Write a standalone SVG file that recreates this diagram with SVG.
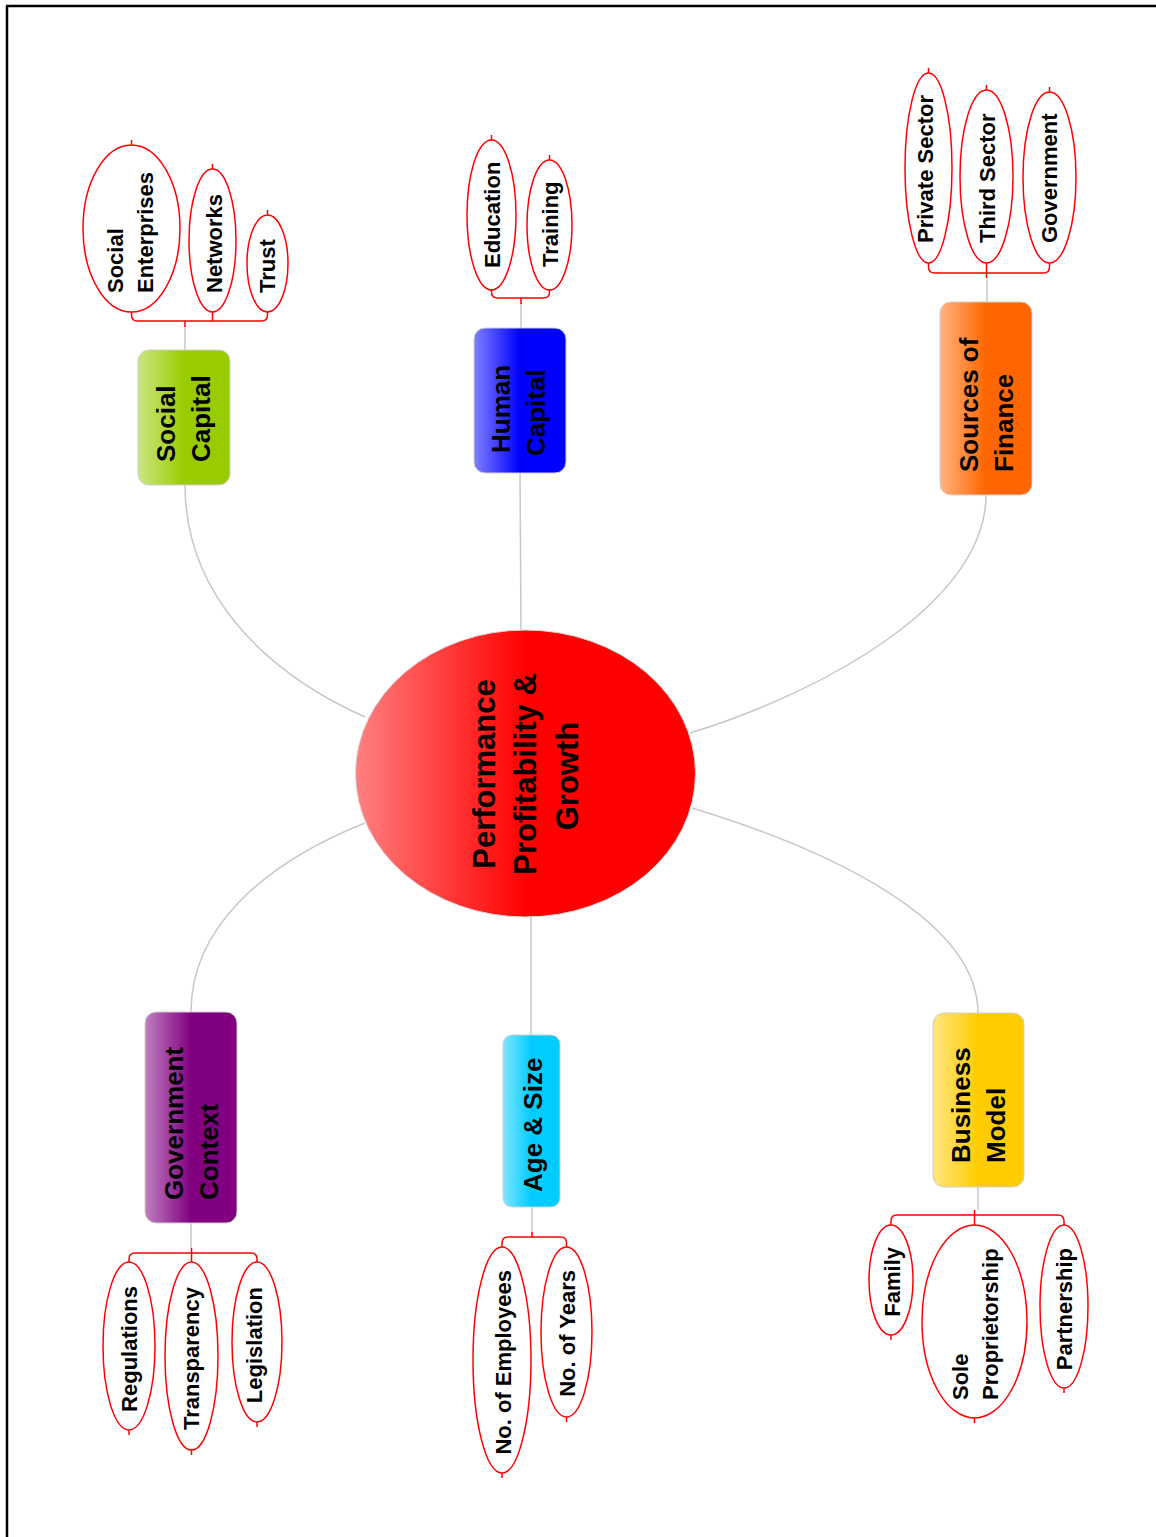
<svg xmlns="http://www.w3.org/2000/svg" width="1156" height="1537" viewBox="0 0 1156 1537">
<defs>
<linearGradient id="gCenter" x1="0" y1="0" x2="1" y2="0"><stop offset="0" stop-color="#ff8080"/><stop offset="0.5" stop-color="#ff0000"/><stop offset="1" stop-color="#ff0000"/></linearGradient>
<linearGradient id="gGreen" x1="0" y1="0" x2="1" y2="0"><stop offset="0" stop-color="#cce680"/><stop offset="0.5" stop-color="#99cc00"/><stop offset="1" stop-color="#99cc00"/></linearGradient>
<linearGradient id="gBlue" x1="0" y1="0" x2="1" y2="0"><stop offset="0" stop-color="#8080ff"/><stop offset="0.5" stop-color="#0000ff"/><stop offset="1" stop-color="#0000ff"/></linearGradient>
<linearGradient id="gOrange" x1="0" y1="0" x2="1" y2="0"><stop offset="0" stop-color="#ffb380"/><stop offset="0.5" stop-color="#ff6600"/><stop offset="1" stop-color="#ff6600"/></linearGradient>
<linearGradient id="gPurple" x1="0" y1="0" x2="1" y2="0"><stop offset="0" stop-color="#c080c0"/><stop offset="0.5" stop-color="#800080"/><stop offset="1" stop-color="#800080"/></linearGradient>
<linearGradient id="gCyan" x1="0" y1="0" x2="1" y2="0"><stop offset="0" stop-color="#80e6ff"/><stop offset="0.5" stop-color="#00ccff"/><stop offset="1" stop-color="#00ccff"/></linearGradient>
<linearGradient id="gYellow" x1="0" y1="0" x2="1" y2="0"><stop offset="0" stop-color="#ffe680"/><stop offset="0.5" stop-color="#ffcc00"/><stop offset="1" stop-color="#ffcc00"/></linearGradient>
</defs>
<style>
.conn{fill:none;stroke:#c8c8c8;stroke-width:1.5}
.br{fill:none;stroke:#ff0000;stroke-width:1.5}
.leaf{fill:#ffffff;stroke:#ff0000;stroke-width:1.5}
.box{stroke:#d0d0d0;stroke-width:1}
.t{font-family:"Liberation Sans",Arial,sans-serif;font-weight:bold;fill:#000}
.tc{font-size:31px;text-anchor:middle}
.tb{font-size:26px}
.tl{font-size:22px}
.e{text-anchor:end}
</style>
<rect width="1156" height="1537" fill="#ffffff"/>
<path d="M6,6 H1156 M7,6 V1537" stroke="#000" stroke-width="2.5" fill="none"/>

<g id="connectors">
<path class="conn" d="M185,485 C185,590 260,670 365,717"/>
<path class="conn" d="M185,326 V350"/>
<path class="conn" d="M520,473 L521,630"/>
<path class="conn" d="M521,303 V328"/>
<path class="conn" d="M986,495 C986,600 830,690 690,733"/>
<path class="conn" d="M987,278 V302"/>
<path class="conn" d="M365,823 C260,865 191,930 191,1012"/>
<path class="conn" d="M191,1223 V1248"/>
<path class="conn" d="M531,917 V1035"/>
<path class="conn" d="M532,1207 V1232"/>
<path class="conn" d="M692,808 C830,850 978,920 978,1013"/>
<path class="conn" d="M978,1187 V1210"/>
</g>

<g id="center">
<ellipse cx="525.5" cy="773.5" rx="170" ry="143.5" fill="url(#gCenter)" stroke="#d8d8d8" stroke-width="1"/>
<text class="t tc" transform="translate(495,774) rotate(-90)">Performance</text>
<text class="t tc" transform="translate(536,774) rotate(-90)">Profitability &amp;</text>
<text class="t tc" transform="translate(578,776) rotate(-90)">Growth</text>
</g>

<g id="social-capital">
<rect class="box" x="138" y="350" width="92" height="135" rx="11" fill="url(#gGreen)"/>
<text class="t tb" transform="translate(175,462) rotate(-90)">Social</text>
<text class="t tb" transform="translate(210,462) rotate(-90)">Capital</text>
</g>
<g id="social-leaves">
<path class="br" d="M131.5,312 V315 Q131.5,321 137.5,321 H261.5 Q267.5,321 267.5,315 V312 M212.5,312 V321 M185,321 V327 M131.5,145 V140 M212.5,169 V164 M267.5,215 V210"/>
<ellipse class="leaf" cx="131.5" cy="228.5" rx="48.5" ry="83.5"/>
<ellipse class="leaf" cx="212.5" cy="240.5" rx="23.5" ry="71.5"/>
<ellipse class="leaf" cx="267.5" cy="263.5" rx="20.5" ry="48.5"/>
<text class="t tl" transform="translate(123,293) rotate(-90)">Social</text>
<text class="t tl" transform="translate(153,293) rotate(-90)">Enterprises</text>
<text class="t tl" transform="translate(222,293) rotate(-90)">Networks</text>
<text class="t tl" transform="translate(275,293) rotate(-90)">Trust</text>
</g>

<g id="human-capital">
<rect class="box" x="474" y="328" width="92" height="145" rx="11" fill="url(#gBlue)"/>
<text class="t tb" transform="translate(510,453) rotate(-90)">Human</text>
<text class="t tb" transform="translate(545,456) rotate(-90)">Capital</text>
</g>
<g id="human-leaves">
<path class="br" d="M491.5,290 V292 Q491.5,298 497.5,298 H543.5 Q549.5,298 549.5,292 V290 M521,298 V304 M491.5,140 V135 M549.5,160 V155"/>
<ellipse class="leaf" cx="491.5" cy="215" rx="24.5" ry="75"/>
<ellipse class="leaf" cx="549.5" cy="225" rx="22.5" ry="65"/>
<text class="t tl" transform="translate(500,268) rotate(-90)">Education</text>
<text class="t tl" transform="translate(558,267) rotate(-90)">Training</text>
</g>

<g id="sources-of-finance">
<rect class="box" x="940" y="302" width="92" height="193" rx="11" fill="url(#gOrange)"/>
<text class="t tb" transform="translate(978,472) rotate(-90)">Sources of</text>
<text class="t tb" transform="translate(1013,472) rotate(-90)">Finance</text>
</g>
<g id="finance-leaves">
<path class="br" d="M928.5,263 V267 Q928.5,273 934.5,273 H1043.5 Q1049.5,273 1049.5,267 V263 M986.5,263 V278 M928.5,73 V68 M986.5,90 V85 M1049.5,92 V87"/>
<ellipse class="leaf" cx="928.5" cy="168" rx="23.5" ry="95"/>
<ellipse class="leaf" cx="986.5" cy="176.5" rx="26.5" ry="86.5"/>
<ellipse class="leaf" cx="1049.5" cy="177.5" rx="26.5" ry="85.5"/>
<text class="t tl" transform="translate(933,243) rotate(-90)">Private Sector</text>
<text class="t tl" transform="translate(995,243) rotate(-90)">Third Sector</text>
<text class="t tl" transform="translate(1057,243) rotate(-90)">Government</text>
</g>

<g id="government-context">
<rect class="box" x="145" y="1012" width="92" height="211" rx="11" fill="url(#gPurple)"/>
<text class="t tb" transform="translate(183,1200) rotate(-90)">Government</text>
<text class="t tb" transform="translate(218,1200) rotate(-90)">Context</text>
</g>
<g id="government-leaves">
<path class="br" d="M129,1262 V1259 Q129,1253 135,1253 H251 Q257,1253 257,1259 V1262 M191.5,1248 V1262 M129,1430 V1435 M191.5,1450 V1455 M257,1422 V1427"/>
<ellipse class="leaf" cx="129" cy="1346" rx="26" ry="84"/>
<ellipse class="leaf" cx="191.5" cy="1356" rx="26.5" ry="94"/>
<ellipse class="leaf" cx="257" cy="1342" rx="25" ry="80"/>
<text class="t tl e" transform="translate(137,1286) rotate(-90)">Regulations</text>
<text class="t tl e" transform="translate(199,1287) rotate(-90)">Transparency</text>
<text class="t tl e" transform="translate(262,1287) rotate(-90)">Legislation</text>
</g>

<g id="age-size">
<rect class="box" x="503" y="1035" width="57" height="172" rx="9" fill="url(#gCyan)"/>
<text class="t tb" transform="translate(542,1192) rotate(-90)">Age &amp; Size</text>
</g>
<g id="age-leaves">
<path class="br" d="M502,1247 V1243 Q502,1237 508,1237 H560.5 Q566.5,1237 566.5,1243 V1247 M532,1232 V1237 M502,1473 V1478 M566.5,1417 V1422"/>
<ellipse class="leaf" cx="502" cy="1360" rx="29" ry="113"/>
<ellipse class="leaf" cx="566.5" cy="1332" rx="25.5" ry="85"/>
<text class="t tl e" transform="translate(511,1270) rotate(-90)">No. of Employees</text>
<text class="t tl e" transform="translate(575,1270) rotate(-90)">No. of Years</text>
</g>

<g id="business-model">
<rect class="box" x="933" y="1013" width="91" height="174" rx="11" fill="url(#gYellow)"/>
<text class="t tb" transform="translate(970,1163) rotate(-90)">Business</text>
<text class="t tb" transform="translate(1005,1163) rotate(-90)">Model</text>
</g>
<g id="business-leaves">
<path class="br" d="M891,1225 V1221 Q891,1215 897,1215 H1058 Q1064,1215 1064,1221 V1225 M974.5,1210 V1225 M891,1335 V1340 M974.5,1418 V1423 M1064,1388 V1393"/>
<ellipse class="leaf" cx="891" cy="1280" rx="22" ry="55"/>
<ellipse class="leaf" cx="974.5" cy="1321.5" rx="52.5" ry="96.5"/>
<ellipse class="leaf" cx="1064" cy="1306.5" rx="24" ry="81.5"/>
<text class="t tl e" transform="translate(900,1247) rotate(-90)">Family</text>
<text class="t tl" transform="translate(968,1400) rotate(-90)">Sole</text>
<text class="t tl" transform="translate(998,1400) rotate(-90)">Proprietorship</text>
<text class="t tl e" transform="translate(1072,1248) rotate(-90)">Partnership</text>
</g>
</svg>
